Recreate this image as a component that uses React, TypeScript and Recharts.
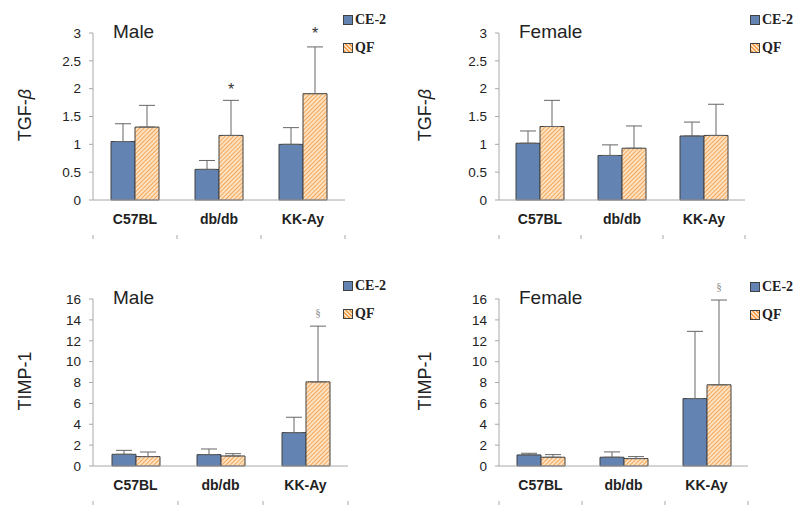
import React from "react";
import { BarChart, Bar, XAxis, YAxis, ErrorBar, LabelList } from "recharts";

const groups = ["C57BL", "db/db", "KK-Ay"];
const boundaryTicks = [0, 1, 2, 3];

// TGF-β, male
const tgfMaleCE = [1.05, 0.55, 1.0];
const tgfMaleCEHi = [1.37, 0.71, 1.3];
const tgfMaleQF = [1.31, 1.16, 1.91];
const tgfMaleQFHi = [1.7, 1.79, 2.75];
const tgfMaleMark = ["", "*", "*"];
const tgfMaleMarkY = [0, 2.0, 3.0];

// TGF-β, female
const tgfFemaleCE = [1.02, 0.8, 1.15];
const tgfFemaleCEHi = [1.24, 0.99, 1.4];
const tgfFemaleQF = [1.32, 0.93, 1.16];
const tgfFemaleQFHi = [1.79, 1.33, 1.72];
const tgfFemaleMark = ["", "", ""];
const tgfFemaleMarkY = [0, 0, 0];

// TIMP-1, male
const timpMaleCE = [1.12, 1.09, 3.2];
const timpMaleCEHi = [1.5, 1.63, 4.67];
const timpMaleQF = [0.9, 0.96, 8.06];
const timpMaleQFHi = [1.34, 1.18, 13.4];
const timpMaleMark = ["", "", "§"];
const timpMaleMarkY = [0, 0, 14.8];

// TIMP-1, female
const timpFemaleCE = [1.06, 0.84, 6.46];
const timpFemaleCEHi = [1.22, 1.35, 12.9];
const timpFemaleQF = [0.84, 0.71, 7.78];
const timpFemaleQFHi = [1.09, 0.9, 15.9];
const timpFemaleMark = ["", "", "§"];
const timpFemaleMarkY = [0, 0, 17.2];

const tgfTicks = [0, 0.5, 1, 1.5, 2, 2.5, 3];
const timpTicks = [0, 2, 4, 6, 8, 10, 12, 14, 16];

const BLUE = "#6384B3";
const OUTLINE = "#404040";
const AXIS = "#a8a8a8";
const SANS = "'Liberation Sans', Arial, sans-serif";
const SERIF = "'Liberation Serif', 'Times New Roman', serif";

const buildRows = (ce: number[], ceHi: number[], qf: number[], qfHi: number[], mark: string[], markY: number[]) =>
  groups.map((g, i) => ({
    name: g,
    pos: i + 0.5,
    ce: ce[i],
    ceErr: [0, ceHi[i] - ce[i]],
    qf: qf[i],
    qfErr: [0, qfHi[i] - qf[i]],
    mark: mark[i],
    markY: markY[i],
  }));

type PanelProps = {
  id: string;
  left: number;
  top: number;
  axisX: number;
  axisRight: number;
  title: string;
  yLabel: React.ReactNode;
  ticks: number[];
  rows: ReturnType<typeof buildRows>;
};

const Legend = ({ x, y }: { x: number; y: number }) => {
  const item = (label: string, bg: string, dy: number) => (
    <div style={{ position: "absolute", left: x, top: y + dy, display: "flex", alignItems: "center", fontFamily: SERIF, fontWeight: "bold", fontSize: 14, color: "#222" }}>
      <span style={{ width: 8, height: 8, border: `1px solid ${OUTLINE}`, background: bg, marginRight: 2 }} />
      {label}
    </div>
  );
  return (
    <>
      {item("CE-2", BLUE, 0)}
      {item("QF", "repeating-linear-gradient(45deg, #f5a04e 0 1.5px, #fde2c2 1.5px 3px)", 28)}
    </>
  );
};

// small downward tick at each category boundary
const BoundaryTick = (p: any) => (
  <line x1={p.x} x2={p.x} y1={p.y} y2={p.y + 4} stroke={AXIS} strokeWidth={1} />
);

const Panel: React.FC<PanelProps> = ({ id, left, top, axisX, axisRight, title, yLabel, ticks, rows }) => {
  const W = 400;
  const H = 250;
  const markContent = (p: any) => {
    const { x, y, width, height, index } = p;
    const r = rows[index];
    if (!r || !r.mark) return null;
    const perUnit = height / r.qf;
    const base = y + height;
    const cy = base - r.markY * perUnit;
    const isStar = r.mark === "*";
    return (
      <text
        x={x + width / 2}
        y={cy + (isStar ? 6 : 4)}
        textAnchor="middle"
        fontSize={isStar ? 16 : 11}
        fontFamily={isStar ? SANS : SERIF}
        fill={isStar ? "#333" : "#888"}
      >
        {r.mark}
      </text>
    );
  };
  return (
    <div style={{ position: "absolute", left, top, width: W, height: H }}>
      <BarChart
        width={W}
        height={H}
        data={rows}
        margin={{ top: 33, right: left + W - axisRight, bottom: 20, left: 0 }}
        barGap={0}
        barSize={24}
      >
        <defs>
          <pattern id={`hatch-${id}`} width="3" height="3" patternUnits="userSpaceOnUse" patternTransform="rotate(45)">
            <rect width="3" height="3" fill="#fde2c2" />
            <line x1="0" y1="0" x2="0" y2="3" stroke="#f5a04e" strokeWidth="1.8" />
          </pattern>
        </defs>
        <XAxis
          xAxisId="grid"
          dataKey="pos"
          type="number"
          domain={[0, 3]}
          ticks={boundaryTicks}
          interval={0}
          height={1}
          axisLine={false}
          tickLine={false}
          tickMargin={0}
          tick={BoundaryTick}
        />
        <XAxis
          dataKey="name"
          stroke={AXIS}
          tickLine={false}
          tick={{ fill: "#222", fontSize: 14, fontWeight: "bold", fontFamily: SANS }}
          tickMargin={8}
          height={29}
        />
        <YAxis
          width={axisX - left}
          domain={[ticks[0], ticks[ticks.length - 1]]}
          ticks={ticks}
          interval={0}
          stroke={AXIS}
          tickSize={4}
          tickMargin={8}
          tick={{ fill: "#222", fontSize: 13.5, fontFamily: SANS }}
        />
        <Bar dataKey="ce" fill={BLUE} stroke={OUTLINE} strokeWidth={1} isAnimationActive={false}>
          <ErrorBar dataKey="ceErr" direction="y" width={8} stroke="#666" strokeWidth={1} />
        </Bar>
        <Bar dataKey="qf" fill={`url(#hatch-${id})`} stroke={OUTLINE} strokeWidth={1} isAnimationActive={false}>
          <ErrorBar dataKey="qfErr" direction="y" width={8} stroke="#666" strokeWidth={1} />
          <LabelList dataKey="mark" content={markContent} />
        </Bar>
      </BarChart>
      <div style={{ position: "absolute", left: axisX - left + 20, top: 21, fontFamily: SANS, fontSize: 19, color: "#222" }}>{title}</div>
      <div
        style={{
          position: "absolute",
          left: 25,
          top: 115,
          transform: "translate(-50%, -50%) rotate(-90deg)",
          whiteSpace: "nowrap",
          fontFamily: SANS,
          fontSize: 18,
          color: "#222",
        }}
      >
        {yLabel}
      </div>
    </div>
  );
};

const tgfLabel = (
  <>
    TGF-<i>β</i>
  </>
);

export default function App() {
  return (
    <div style={{ position: "absolute", left: 0, top: 0, width: 800, height: 505, background: "#fff" }}>
      <Panel id="a" left={0} top={0} axisX={93} axisRight={345} title="Male" yLabel={tgfLabel} ticks={tgfTicks}
        rows={buildRows(tgfMaleCE, tgfMaleCEHi, tgfMaleQF, tgfMaleQFHi, tgfMaleMark, tgfMaleMarkY)} />
      <Panel id="b" left={400} top={0} axisX={499} axisRight={745} title="Female" yLabel={tgfLabel} ticks={tgfTicks}
        rows={buildRows(tgfFemaleCE, tgfFemaleCEHi, tgfFemaleQF, tgfFemaleQFHi, tgfFemaleMark, tgfFemaleMarkY)} />
      <Panel id="c" left={0} top={266} axisX={93} axisRight={348} title="Male" yLabel="TIMP-1" ticks={timpTicks}
        rows={buildRows(timpMaleCE, timpMaleCEHi, timpMaleQF, timpMaleQFHi, timpMaleMark, timpMaleMarkY)} />
      <Panel id="d" left={400} top={266} axisX={499} axisRight={748} title="Female" yLabel="TIMP-1" ticks={timpTicks}
        rows={buildRows(timpFemaleCE, timpFemaleCEHi, timpFemaleQF, timpFemaleQFHi, timpFemaleMark, timpFemaleMarkY)} />
      <Legend x={343} y={12} />
      <Legend x={750} y={12} />
      <Legend x={343} y={278} />
      <Legend x={750} y={279} />
    </div>
  );
}
